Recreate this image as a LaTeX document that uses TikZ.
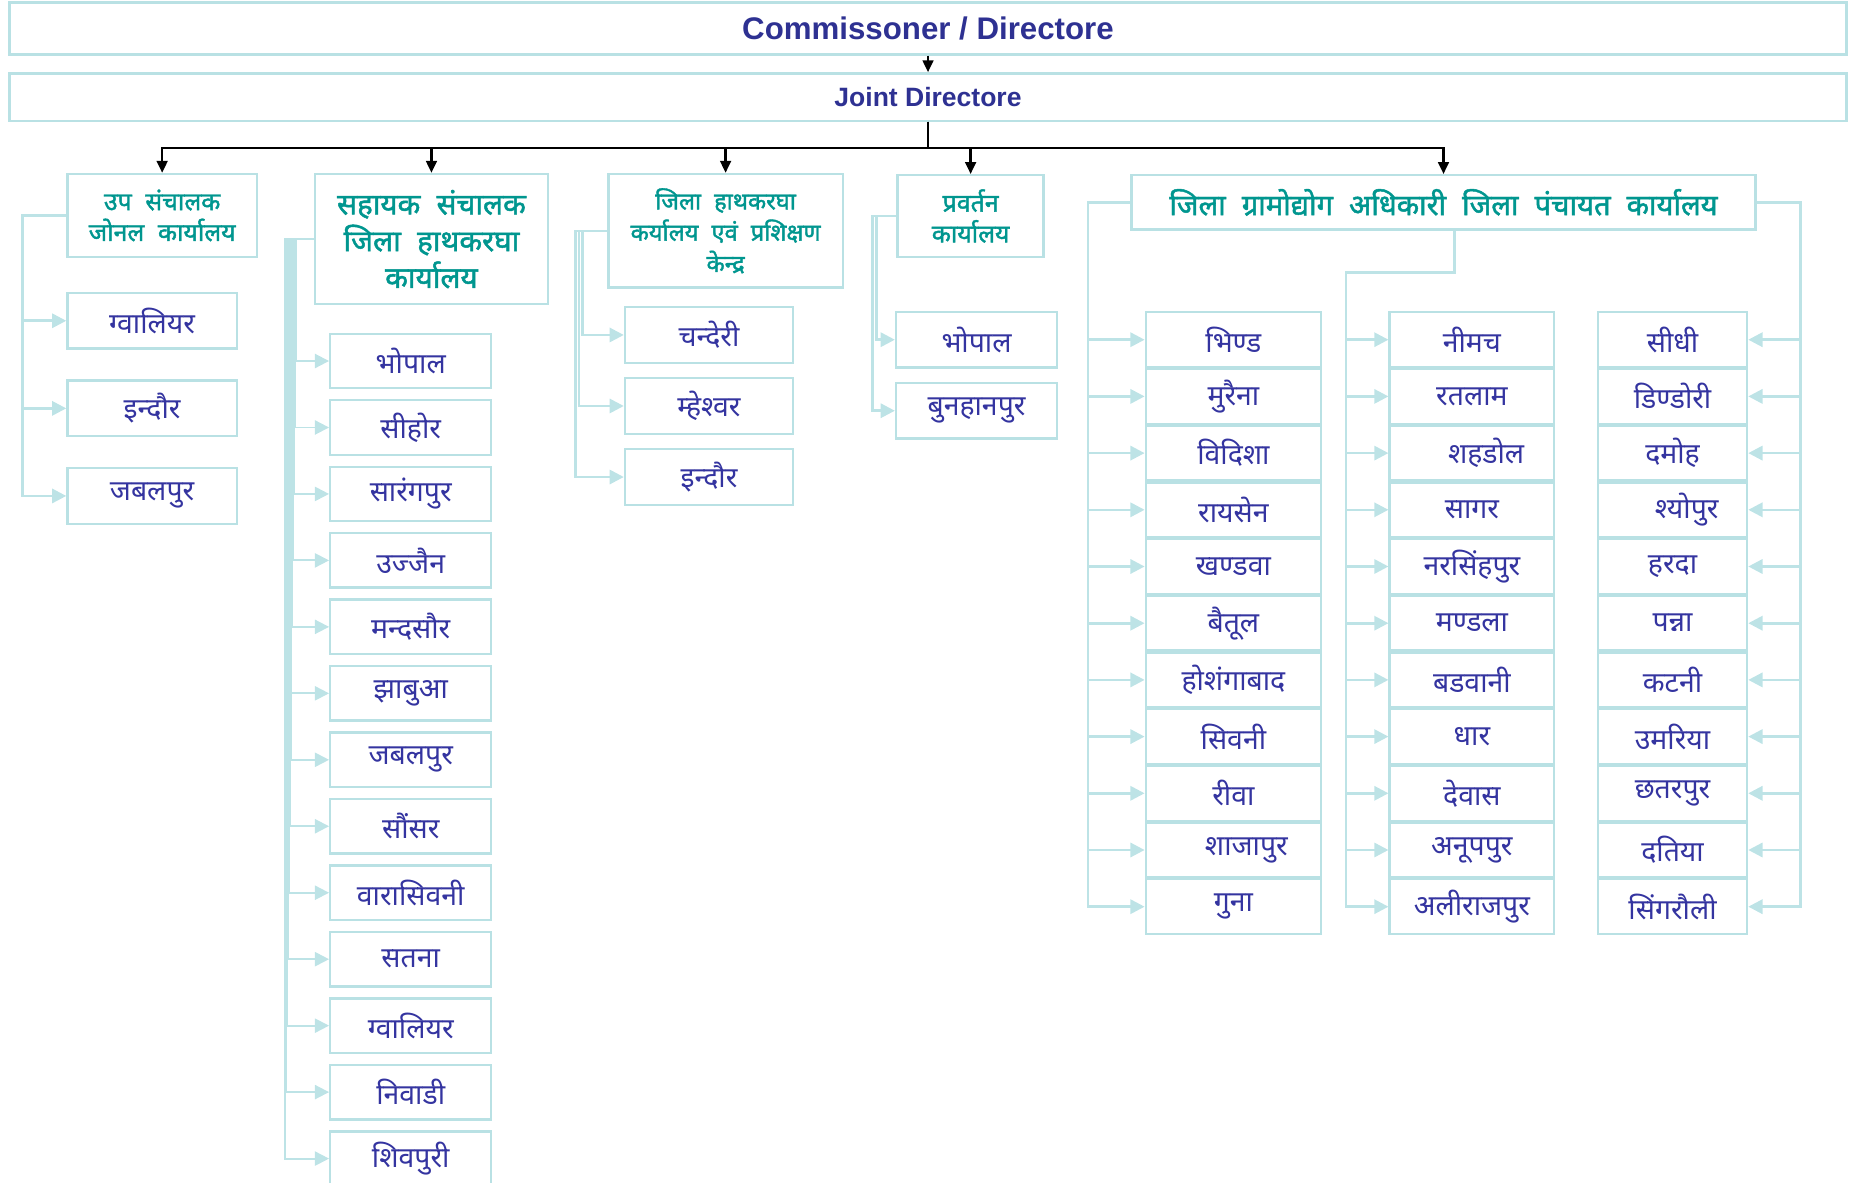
\documentclass[tikz,border=0pt]{standalone}
\usepackage{fontspec}
\setmainfont{Liberation Sans}
\newfontfamily\hindi[Script=Devanagari]{Noto Sans}
\newfontfamily\hindib[Script=Devanagari,FakeBold=1.6]{Noto Sans}
\usetikzlibrary{arrows.meta}
\definecolor{titleblue}{RGB}{46,49,146}
\definecolor{itemblue}{RGB}{52,52,160}
\definecolor{headteal}{RGB}{0,150,143}
\definecolor{boxline}{RGB}{185,225,228}
\definecolor{connline}{RGB}{189,227,230}
\newcommand{\gap}{\hspace{0.55em}}
\begin{document}
\begin{tikzpicture}[x=0.5pt,y=-0.5pt,
  box/.style={draw=boxline, line width=1pt, fill=white, inner sep=0pt, anchor=center},
  topbox/.style={box, text=titleblue},
  head/.style={box, text=headteal, align=center},
  item/.style={box, text=itemblue, font=\hindi\fontsize{12}{14}\selectfont},
  conn/.style={draw=connline, line width=1.1pt, -{Triangle[length=6pt,width=6pt]}},
  thinconn/.style={conn, line width=0.8pt},
  mainarrow/.style={draw=black, line width=1pt, -{Triangle[length=5pt,width=4.5pt]}},
]
\useasboundingbox (0,0) rectangle (1568,999);
\clip (0,0) rectangle (1568,999);

% top boxes
\node[topbox, minimum width=776pt, minimum height=22pt, font=\bfseries\fontsize{13.2}{15}\selectfont] (comm) at (784,24) {Commissoner / Directore};
\node[topbox, minimum width=776pt, minimum height=20pt, font=\bfseries\fontsize{11.2}{13}\selectfont] (joint) at (784,82) {Joint Directore};

% group headers
\node[head, minimum width=80pt, minimum height=35pt, font=\hindib\fontsize{10.5}{13}\selectfont] (g1) at (137,182) {उप\gap संचालक\\जोनल\gap कार्यालय};
\node[head, minimum width=98.5pt, minimum height=55pt, font=\hindib\fontsize{12.5}{15.5}\selectfont] (g2) at (364.5,202) {सहायक\gap संचालक\\जिला\gap हाथकरघा\\कार्यालय};
\node[head, minimum width=99pt, minimum height=48pt, font=\hindib\fontsize{10}{13.2}\selectfont] (g3) at (613,195) {जिला\gap हाथकरघा\\कर्यालय\gap एवं\gap प्रशिक्षण\\केन्द्र};
\node[head, minimum width=61.7pt, minimum height=34.5pt, font=\hindib\fontsize{10.5}{13}\selectfont] (g4) at (820,182.5) {प्रवर्तन\\कार्यालय};
\node[head, minimum width=263.5pt, minimum height=23pt, font=\hindib\fontsize{12.3}{15}\selectfont] (g5) at (1219.5,171) {जिला\gap ग्रामोद्योग\gap अधिकारी\gap जिला\gap पंचायत\gap कार्यालय};

% main connectors
\draw[mainarrow] (comm.south) -- (joint.north);
\foreach \g in {g1,g2,g3,g4,g5}
  \draw[mainarrow] (joint.south) -- ++(0,22) -| (\g.north);

% group 1
\foreach \t [count=\i from 0] in {ग्वालियर, इन्दौर, जबलपुर}
  \node[item, minimum width=71.5pt, minimum height=23.5pt] (g1c\i) at (128.5,{271+\i*74}) {\t};
\foreach \i in {0,1,2}
  \draw[conn] (g1.west) -- ++(-37,0) |- (g1c\i.west);

% group 2
\foreach \t [count=\i from 0] in {भोपाल, सीहोर, सारंगपुर, उज्जैन, मन्दसौर, झाबुआ, जबलपुर, सौंसर, वारासिवनी, सतना, ग्वालियर, निवाडी, शिवपुरी}
  \node[item, minimum width=68pt, minimum height=23pt] (g2c\i) at (347,{305+\i*56.15}) {\t};
\foreach \i in {0,...,12}
  \draw[thinconn] (g2.west) -- ++({-15-\i*0.75},0) |- (g2c\i.west);

% group 3
\foreach \t [count=\i from 0] in {चन्देरी, म्हेश्वर, इन्दौर}
  \node[item, minimum width=71pt, minimum height=23.5pt] (g3c\i) at (599,{283+\i*60}) {\t};
\foreach \i in {0,1,2}
  \draw[conn] (g3.west) -- ++({-21-\i*3},0) |- (g3c\i.west);

% group 4
\foreach \t [count=\i from 0] in {भोपाल, बुनहानपुर}
  \node[item, minimum width=68pt, minimum height=23.5pt] (g4c\i) at (825,{287+\i*60}) {\t};
\foreach \i in {0,1}
  \draw[conn] (g4.west) -- ++({-17-\i*3},0) |- (g4c\i.west);

% group 5
\foreach \t [count=\i from 0] in {भिण्ड, मुरैना, विदिशा, रायसेन, खण्डवा, बैतूल, होशंगाबाद, सिवनी, रीवा, {\hspace{11pt}शाजापुर}, गुना}
  \node[item, minimum width=74pt, minimum height=23.2pt] (a\i) at (1042,{287+\i*47.9}) {\t};
\foreach \t [count=\i from 0] in {नीमच, रतलाम, {\hspace{12pt}शहडोल}, सागर, नरसिंहपुर, मण्डला, बडवानी, धार, देवास, अनूपपुर, अलीराजपुर}
  \node[item, minimum width=69.5pt, minimum height=23.2pt] (b\i) at (1243.5,{287+\i*47.9}) {\t};
\foreach \t [count=\i from 0] in {सीधी, डिण्डोरी, दमोह, {\hspace{12pt}श्योपुर}, हरदा, पन्ना, कटनी, उमरिया, छतरपुर, दतिया, सिंगरौली}
  \node[item, minimum width=63pt, minimum height=23.2pt] (c\i) at (1413,{287+\i*47.9}) {\t};

\coordinate (g5b) at ([xshift=4.75pt]g5.south);
\foreach \i in {0,...,10} {
  \draw[conn] (g5.west) -- ++(-36,0) |- (a\i.west);
  \draw[conn] (g5b) -- ++(0,35) -- ++(-92,0) |- (b\i.west);
  \draw[conn] (g5.east) -- ++(37,0) |- (c\i.east);
}
\end{tikzpicture}
\end{document}
